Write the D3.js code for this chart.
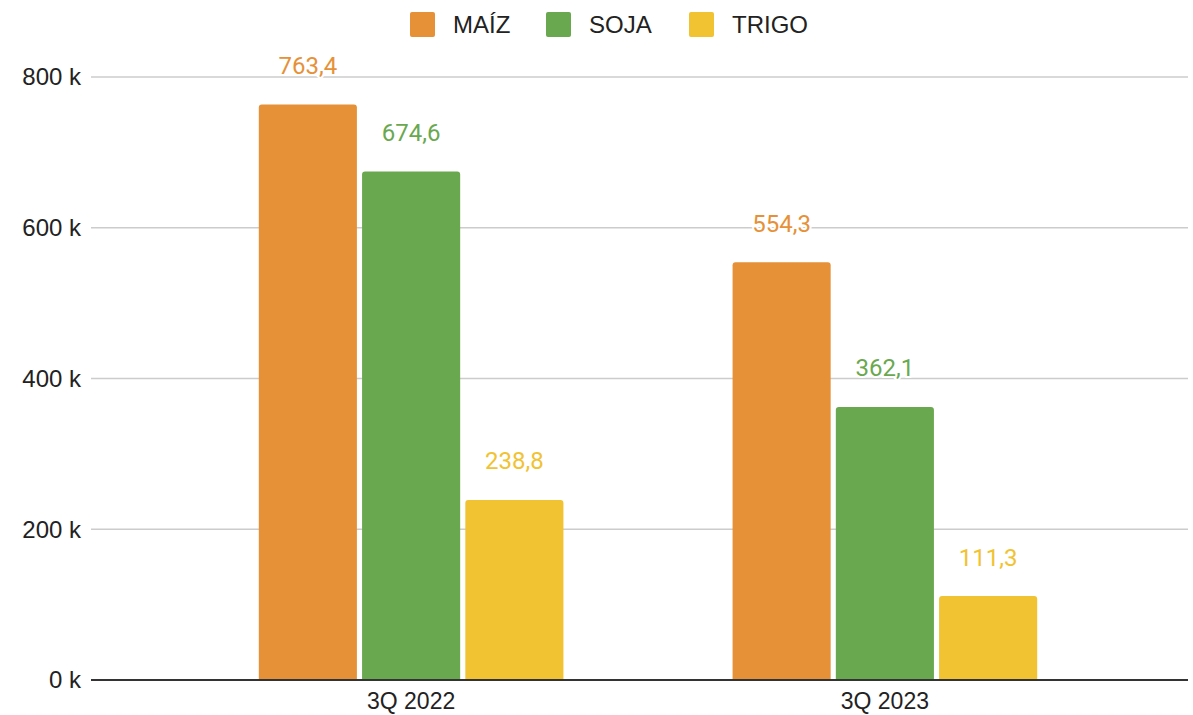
<!DOCTYPE html>
<html>
<head>
<meta charset="utf-8">
<script src="https://cdn.jsdelivr.net/npm/d3@7"></script>
<style>
  body { margin: 0; background: #fff; }
  text { font-family: "Liberation Sans", Arial, sans-serif; }
  .val { font-family: Roboto, "Liberation Sans", sans-serif; }
</style>
</head>
<body>
<script>
const width = 1193;
const height = 715;

const quarters = ["3Q 2022", "3Q 2023"];
const crops = ["MAÍZ", "SOJA", "TRIGO"];
const maiz = [763.4, 554.3];
const soja = [674.6, 362.1];
const trigo = [238.8, 111.3];
const yTicks = [0, 200, 400, 600, 800];
const colors = ["#e69138", "#6aa84f", "#f1c232"];

const series = [maiz, soja, trigo];

const svg = d3.select("body").append("svg")
  .attr("width", width)
  .attr("height", height);

const y = d3.scaleLinear().domain([0, 800]).range([680, 77]);

const x0 = d3.scaleBand().domain(quarters).range([174, 1122])
  .paddingInner(0.357).paddingOuter(0.179);

const x1 = d3.scaleBand().domain(crops).range([0, x0.bandwidth()])
  .paddingInner(0.05).paddingOuter(0);

const color = d3.scaleOrdinal().domain(crops).range(colors);

// gridlines
svg.append("g")
  .selectAll("line")
  .data(yTicks.filter(d => d > 0))
  .join("line")
  .attr("x1", 91).attr("x2", 1188)
  .attr("y1", d => y(d)).attr("y2", d => y(d))
  .attr("stroke", "#cccccc")
  .attr("stroke-width", 1.3);

// y labels
svg.append("g")
  .selectAll("text")
  .data(yTicks)
  .join("text")
  .attr("x", 81)
  .attr("y", d => y(d))
  .attr("dy", "0.35em")
  .attr("text-anchor", "end")
  .attr("fill", "#222")
  .style("font-size", "24px")
  .text(d => d + " k");

// bars
const rows = [];
quarters.forEach((q, i) => {
  crops.forEach((c, j) => rows.push({ q, c, v: series[j][i] }));
});

function barPath(d) {
  const x = x0(d.q) + x1(d.c);
  const w = x1.bandwidth();
  const top = y(d.v);
  const bottom = y(0);
  const r = 3;
  return `M${x},${bottom}V${top + r}Q${x},${top} ${x + r},${top}H${x + w - r}Q${x + w},${top} ${x + w},${top + r}V${bottom}Z`;
}

svg.append("g")
  .selectAll("path")
  .data(rows)
  .join("path")
  .attr("d", barPath)
  .attr("fill", d => color(d.c));

// baseline
svg.append("line")
  .attr("x1", 91).attr("x2", 1188)
  .attr("y1", y(0)).attr("y2", y(0))
  .attr("stroke", "#333")
  .attr("stroke-width", 2);

// data labels
const fmt = v => d3.format(".1f")(v).replace(".", ",");
svg.append("g")
  .selectAll("text")
  .data(rows)
  .join("text")
  .attr("class", "val")
  .attr("x", d => x0(d.q) + x1(d.c) + x1.bandwidth() / 2)
  .attr("y", d => y(d.v) - 39)
  .attr("dy", "0.35em")
  .attr("text-anchor", "middle")
  .attr("fill", d => color(d.c))
  .attr("stroke", "#fff")
  .attr("stroke-width", 4)
  .attr("paint-order", "stroke")
  .style("font-size", "24px")
  .text(d => fmt(d.v));

// x labels
svg.append("g")
  .selectAll("text")
  .data(quarters)
  .join("text")
  .attr("x", d => x0(d) + x0.bandwidth() / 2)
  .attr("y", 701)
  .attr("dy", "0.35em")
  .attr("text-anchor", "middle")
  .attr("fill", "#222")
  .style("font-size", "23px")
  .text(d => d);

// legend
const legendX = [410, 546, 689];
const legend = svg.append("g")
  .selectAll("g")
  .data(crops)
  .join("g")
  .attr("transform", (d, i) => `translate(${legendX[i]},12)`);

legend.append("rect")
  .attr("width", 25).attr("height", 25).attr("rx", 2)
  .attr("fill", d => color(d));

legend.append("text")
  .attr("x", 43).attr("y", 12.5)
  .attr("dy", "0.35em")
  .attr("fill", "#222")
  .style("font-size", "24px")
  .text(d => d);
</script>
</body>
</html>
